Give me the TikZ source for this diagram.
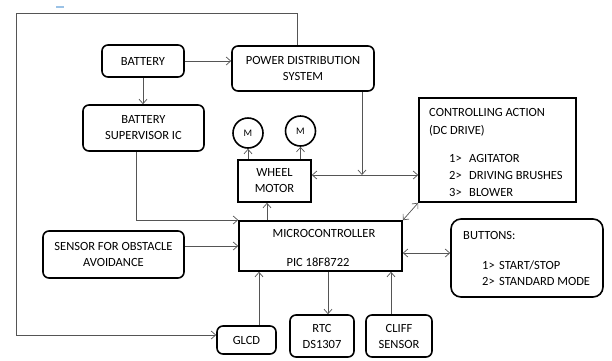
\documentclass[tikz,border=0pt]{standalone}
\usepackage{fontspec}
\setmainfont{Carlito}
\usetikzlibrary{arrows.meta}
\definecolor{dashblue}{RGB}{155,194,230}
\definecolor{conngray}{RGB}{85,85,85}
\newcommand\lblfont{\fontsize{12.5}{16}\selectfont}
\tikzset{
  rbox/.style={draw=black, line width=1.6pt, rounded corners=6pt, inner sep=0pt, align=center, font=\lblfont},
  sbox/.style={draw=black, line width=1.6pt, inner sep=0pt, align=center, font=\lblfont},
  mcirc/.style={draw=black, line width=1.6pt, circle, inner sep=0pt, minimum size=30pt, font=\fontsize{10}{12}\selectfont},
  txt/.style={inner sep=0pt, font=\lblfont, anchor=base west},
  conn/.style={draw=conngray, line width=0.7pt, -{Straight Barb[length=4.5pt,width=8pt]}},
  dconn/.style={draw=conngray, line width=0.7pt, {Straight Barb[length=4.5pt,width=8pt]}-{Straight Barb[length=4.5pt,width=8pt]}},
}
\begin{document}
\begin{tikzpicture}[x=1pt,y=-1pt]
\useasboundingbox (0,0) rectangle (612,360);
\fill[dashblue] (56,5.5) rectangle (64,8);

% boxes
\node[rbox, minimum width=82pt, minimum height=32pt] (battery) at (143,61) {BATTERY};
\node[rbox, minimum width=142pt, minimum height=45pt] (pds) at (303,68.5) {POWER DISTRIBUTION\\SYSTEM};
\node[rbox, minimum width=121pt, minimum height=46pt] (sup) at (143.5,128) {BATTERY\\SUPERVISOR IC};
\node[mcirc] (m1) at (248,133) {M};
\node[mcirc] (m2) at (300.5,131) {M};
\node[sbox, minimum width=73pt, minimum height=42pt] (wheel) at (274.5,181) {WHEEL\\MOTOR};
\node[sbox, minimum width=157pt, minimum height=104pt] (ctrl) at (497.5,150) {};
\node[txt] (c1) at (429,116) {CONTROLLING ACTION};
\node[txt] (c2) at (429,134) {(DC DRIVE)};
\node[txt] (c3) at (449,162) {\makebox[20pt][l]{1>}AGITATOR};
\node[txt] (c4) at (449,179) {\makebox[20pt][l]{2>}DRIVING BRUSHES};
\node[txt] (c5) at (449,196) {\makebox[20pt][l]{3>}BLOWER};
\node[rbox, minimum width=141pt, minimum height=47pt] (sensor) at (113.5,254.5) {SENSOR FOR OBSTACLE\\AVOIDANCE};
\node[sbox, minimum width=163pt, minimum height=50pt] (mc) at (320.5,246) {};
\node[inner sep=0pt, font=\lblfont] (mct1) at (324,233) {MICROCONTROLLER};
\node[inner sep=0pt, font=\lblfont] (mct2) at (318,262) {PIC 18F8722};
\node[rbox, rounded corners=10pt, minimum width=152pt, minimum height=78pt] (buttons) at (527,258) {};
\node[txt] (b1) at (463,239) {BUTTONS:};
\node[txt] (b2) at (482,269) {\makebox[17pt][l]{1>}START/STOP};
\node[txt] (b3) at (482,285) {\makebox[17pt][l]{2>}STANDARD MODE};
\node[rbox, minimum width=59pt, minimum height=28pt] (glcd) at (246.5,340) {GLCD};
\node[rbox, minimum width=64pt, minimum height=42pt] (rtc) at (322,336) {RTC\\DS1307};
\node[rbox, minimum width=66pt, minimum height=42pt] (cliff) at (399,336) {CLIFF\\SENSOR};

% junctions
\coordinate (pj) at (362,175);
\coordinate (f1) at (297,13);
\coordinate (f2) at (16,13);
\coordinate (f3) at (16,335);

% connectors
\draw[conn] (battery.east) -- (pds.west |- battery.east);
\draw[conn] (battery.south) -- (battery.south |- sup.north);
\draw[conn] (sup.south -| 136,0) |- (mc.west |- 0,220);
\draw[conn] (sensor.east |- 0,246) -- (mc.west |- 0,246);
\draw[conn] (mc.north -| 267,0) -- (wheel.south -| 267,0);
\draw[conn] (wheel.north -| m1.south) -- (m1.south);
\draw[conn] (wheel.north -| m2.south) -- (m2.south);
\draw[dconn] (wheel.east |- pj) -- (ctrl.west |- pj);
\draw[conn] (pds.south -| pj) -- (pj);
\draw[dconn] (mc.north east) -- (ctrl.south west);
\draw[dconn] (mc.east |- 0,253) -- (buttons.west |- 0,253);
\draw[conn] (mc.south -| 328,0) -- (rtc.north -| 328,0);
\draw[conn] (cliff.north -| 391,0) -- (mc.south -| 391,0);
\draw[conn] (glcd.north -| 259,0) -- (mc.south -| 259,0);
\draw[conn] (pds.north -| f1) -- (f1) -- (f2) -- (f3) -- (glcd.west |- f3);
\end{tikzpicture}
\end{document}
